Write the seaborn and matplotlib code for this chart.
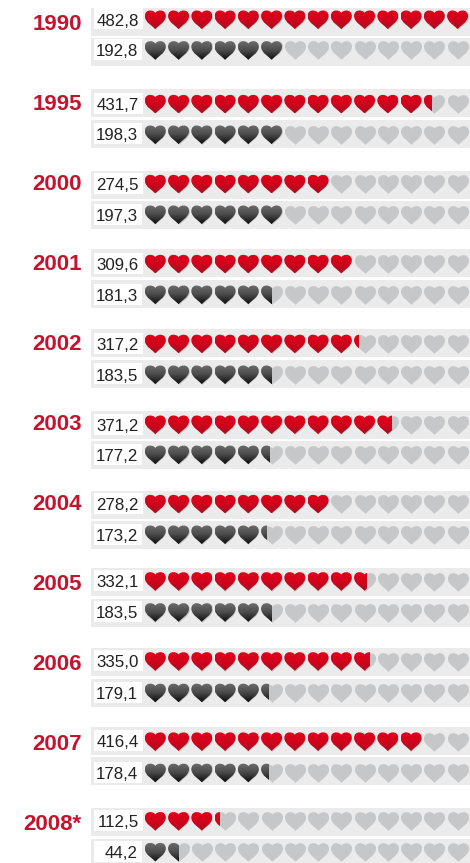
import numpy as np
import pandas as pd
import matplotlib
matplotlib.use("Agg")
import matplotlib.pyplot as plt
from matplotlib.path import Path
from matplotlib.patches import PathPatch
from matplotlib.colors import LinearSegmentedColormap
import seaborn as sns

# ---- data ----
years = ["1990", "1995", "2000", "2001", "2002", "2003", "2004", "2005", "2006", "2007", "2008*"]
red_values = ["482,8", "431,7", "274,5", "309,6", "317,2", "371,2", "278,2", "332,1", "335,0", "416,4", "112,5"]
black_values = ["192,8", "198,3", "197,3", "181,3", "183,5", "177,2", "173,2", "183,5", "179,1", "178,4", "44,2"]
red_hearts = [14, 12.39, 8, 9, 9.23, 10.68, 8, 9.59, 9.71, 12, 3.24]
black_hearts = [6, 6, 6, 5.51, 5.51, 5.41, 5.29, 5.51, 5.39, 5.39, 1.49]
n_hearts = 14

# ---- layout (pixels, y downward) ----
W, H = 470, 863
pitch_x, x0 = 23.25, 143.67
group_pitch, first_top = 80, 8
top_nudge = [0, 1, 3, 1, 1, 3, 3, 0, 0, -1, 0]
second_offset = [30, 31, 30, 31, 31, 30, 30, 31, 31, 30, 31]
red_inset = [11.8, 15.2, 13.2, 15.15, 15, 13.8, 13.2, 13.5, 13.5, 14.7, 13.4]
black_inset = [12.5, 14.8, 13.8, 14.85, 14.8, 13.9, 13.8, 13.5, 14, 16, 13.2]
band_h = 28
heart_w = 21.0 / pitch_x
heart_h = 18.6

RED_TEXT = "#c2142d"
BAND = "#ebebeb"
EMPTY = "#c6c7c9"
red_cmap = LinearSegmentedColormap.from_list("r", ["#e0001a", "#d2041c", "#a80f20"])
blk_cmap = LinearSegmentedColormap.from_list("k", ["#6c6c6c", "#4a4a4a", "#0e0e0e"])

sns.set_theme(style="white")
plt.rcParams["font.family"] = ["Liberation Sans", "DejaVu Sans"]

fig = plt.figure(figsize=(W / 100, H / 100), dpi=100)
ax = fig.add_axes([0, 0, 1, 1])
xlim = (-x0 / pitch_x, (W - x0) / pitch_x)
ylim = (H, 0)


def unit_heart():
    right = [(0, -1), (0.16, -0.74), (0.99, -0.28), (1, 0.4),
             (1, 0.8), (0.76, 1), (0.5, 1), (0.29, 1), (0.1, 0.92), (0, 0.74)]
    left = [(-x, y) for x, y in right[-2::-1]]
    verts = np.array(right + left + [(0, -1)], float)
    codes = [Path.MOVETO] + [Path.CURVE4] * 18 + [Path.CLOSEPOLY]
    return verts, codes


HV, HC = unit_heart()


def heart_at(cx, cy):
    v = HV.copy()
    v[:, 0] = cx + v[:, 0] * heart_w / 2
    v[:, 1] = cy - v[:, 1] * heart_h / 2
    return Path(v, HC)


def fill_heart(i, cy, amount, cmap):
    frac = min(1.0, amount - i)
    left, right = i + 0.5 - heart_w / 2, i + 0.5 + heart_w / 2
    cut = min(i + frac, right)
    if cut <= left:
        return
    grad = np.linspace(0, 1, 32).reshape(-1, 1)
    im = ax.imshow(grad, cmap=cmap, aspect="auto", interpolation="bilinear",
                   extent=(left, cut, cy + heart_h / 2, cy - heart_h / 2), zorder=4)
    im.set_clip_path(PathPatch(heart_at(i + 0.5, cy), transform=ax.transData))


rows = []
for g, year in enumerate(years):
    top1 = first_top + group_pitch * g + top_nudge[g]
    top2 = top1 + second_offset[g]
    for top, inset, label, amount, cmap, box_r, txt_r in (
        (top1, red_inset[g], red_values[g], red_hearts[g], red_cmap, 142.7, 138.8),
        (top2, black_inset[g], black_values[g], black_hearts[g], blk_cmap, 141.8, 137.8),
    ):
        cy = top + inset
        ax.barh(top + band_h / 2, (W - 91) / pitch_x, height=band_h, left=(91 - x0) / pitch_x,
                color=BAND, linewidth=0, zorder=1)
        ax.barh(cy - 0.8, (box_r - 94.3) / pitch_x, height=21, left=(94.3 - x0) / pitch_x,
                color="white", linewidth=0, zorder=2)
        ax.text((txt_r - x0) / pitch_x, cy - 0.3, label, ha="right", va="center_baseline",
                fontsize=12.2, color="#222222", zorder=5)
        for i in range(n_hearts):
            rows.append({"x": i + 0.5, "y": cy})
            if amount > i:
                fill_heart(i, cy, amount, cmap)
    ax.text((81.7 - x0) / pitch_x, 21.5 + group_pitch * g, year, ha="right", va="center_baseline",
            fontsize=16, fontweight="bold", color=RED_TEXT, zorder=5)

hearts = pd.DataFrame(rows)
marker_v = HV * [1.0, heart_h / (heart_w * pitch_x)]
sns.scatterplot(data=hearts, x="x", y="y", ax=ax, marker=Path(marker_v, HC),
                s=(heart_w * pitch_x * 0.72) ** 2, color=EMPTY, linewidth=0, zorder=3, legend=False)

ax.set_xlim(*xlim)
ax.set_ylim(*ylim)
ax.axis("off")
fig.savefig("out.png", dpi=100, facecolor="white")
